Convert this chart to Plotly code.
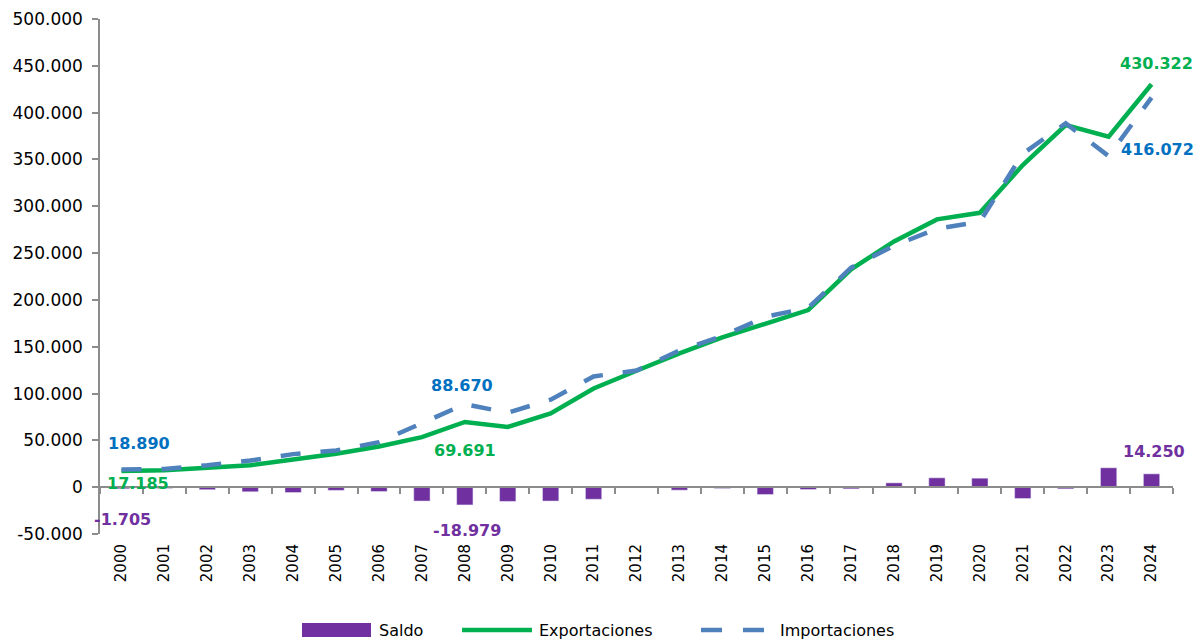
import plotly.graph_objects as go

years = [str(y) for y in range(2000, 2025)]
exportaciones = [17185, 18200, 20700, 23500, 29600, 35800, 43500, 53500, 69691, 64400,
                 78700, 105400, 124300, 142800, 159900, 174100, 189100, 232600, 262500,
                 286000, 293000, 344000, 386800, 374300, 430322]
importaciones = [18890, 19500, 23400, 28400, 35300, 39200, 48100, 68300, 88670, 79600,
                 93500, 118300, 124600, 146000, 161300, 181900, 191600, 234400, 257900,
                 276000, 283400, 356100, 388600, 353600, 416072]
saldo = [-1705, -1300, -2700, -4900, -5700, -3400, -4600, -14800, -18979, -15200,
         -14800, -12900, -300, -3200, -1400, -7800, -2500, -1800, 4600, 10000,
         9600, -12100, -1800, 20700, 14250]

y_tickvals = [-50000, 0, 50000, 100000, 150000, 200000, 250000, 300000, 350000, 400000, 450000, 500000]
y_ticktext = ["-50.000", "0", "50.000", "100.000", "150.000", "200.000", "250.000",
              "300.000", "350.000", "400.000", "450.000", "500.000"]

# data labels: (category, text, colour key, label y position, xshift)
labels = [
    ("2000", "18.890", "imp", 46500, 18),
    ("2000", "17.185", "exp", 4000, 17),
    ("2000", "-1.705", "sal", -34000, 1),
    ("2008", "88.670", "imp", 109000, -3),
    ("2008", "69.691", "exp", 39500, 0),
    ("2008", "-18.979", "sal", -46000, 2),
    ("2024", "430.322", "exp", 452000, 5),
    ("2024", "416.072", "imp", 361000, 6),
    ("2024", "14.250", "sal", 38000, 2),
]

PURPLE = "#7030A0"
GREEN = "#00B050"
BLUE_LINE = "#4F81BD"
BLUE_TXT = "#0070C0"
AXIS = "#8C8C8C"
FONT = "DejaVu Sans"
label_colors = {"imp": BLUE_TXT, "exp": GREEN, "sal": PURPLE}

W, H = 1199, 641
ML, MR, MT, MB = 100, 26, 19, 107
PW, PH = W - ML - MR, H - MT - MB


def px(xp):
    return (xp - ML) / PW


def py(yp):
    return (H - MB - yp) / PH


fig = go.Figure()
fig.add_trace(go.Bar(x=years, y=saldo, name="Saldo", marker_color=PURPLE, width=0.38,
                     showlegend=False))
fig.add_trace(go.Scatter(x=years, y=exportaciones, name="Exportaciones", mode="lines",
                         line=dict(color=GREEN, width=4.5), showlegend=False))
fig.add_trace(go.Scatter(x=years, y=importaciones, name="Importaciones", mode="lines",
                         line=dict(color=BLUE_LINE, width=4.5, dash="20px,20px"),
                         showlegend=False))
# helper trace for the zero-line category axis
fig.add_trace(go.Scatter(x=years, y=[None] * len(years), xaxis="x2", showlegend=False,
                         hoverinfo="skip", mode="lines"))

for cat, txt, key, ypos, xs in labels:
    fig.add_annotation(x=years.index(cat), y=ypos, text="<b>%s</b>" % txt, showarrow=False,
                       xshift=xs, font=dict(family=FONT, size=16, color=label_colors[key]))

# legend drawn manually to match the wide swatches
LEG_Y = 630
fig.add_shape(type="rect", xref="paper", yref="paper", x0=px(302), x1=px(371),
              y0=py(LEG_Y + 7), y1=py(LEG_Y - 7), fillcolor=PURPLE, line_width=0)
fig.add_shape(type="line", xref="paper", yref="paper", x0=px(462), x1=px(532),
              y0=py(LEG_Y), y1=py(LEG_Y), line=dict(color=GREEN, width=4.5))
fig.add_shape(type="line", xref="paper", yref="paper", x0=px(701), x1=px(764),
              y0=py(LEG_Y), y1=py(LEG_Y), line=dict(color=BLUE_LINE, width=4.5, dash="21px,21px"))
for xt, txt in [(377, "Saldo"), (537, "Exportaciones"), (778, "Importaciones")]:
    fig.add_annotation(xref="paper", yref="paper", x=px(xt), y=py(LEG_Y), text=txt,
                       showarrow=False, xanchor="left", yanchor="middle",
                       font=dict(family=FONT, size=16, color="#000000"))

fig.update_layout(
    width=W, height=H,
    margin=dict(l=ML, r=MR, t=MT, b=MB),
    plot_bgcolor="white", paper_bgcolor="white",
    font=dict(family=FONT, color="#000000"),
    showlegend=False,
    xaxis=dict(type="category", range=[-0.5, 24.5], showline=False, ticks="",
               showgrid=False, tickangle=-90, tickfont=dict(family=FONT, size=15),
               zeroline=False, automargin=False, ticklabelstandoff=6),
    xaxis2=dict(type="category", overlaying="x", anchor="free", position=50000 / 550000,
                range=[-0.5, 24.5], categoryorder="array", categoryarray=years,
                showticklabels=False, ticks="outside", ticklen=6, tickcolor=AXIS,
                tickwidth=1.5, tickson="boundaries", showline=True, linecolor=AXIS,
                linewidth=1.5, showgrid=False, zeroline=False, automargin=False),
    yaxis=dict(range=[-50000, 500000], tickvals=y_tickvals, ticktext=y_ticktext,
               showline=True, linecolor=AXIS, linewidth=1.5, ticks="outside",
               ticklen=6, tickcolor=AXIS, tickwidth=1.5, showgrid=False, zeroline=False,
               tickfont=dict(family=FONT, size=17), automargin=False,
               ticklabelstandoff=6),
)

fig.write_html("out.html", config={"displayModeBar": False},
               post_script="document.body.style.margin='0px';")
